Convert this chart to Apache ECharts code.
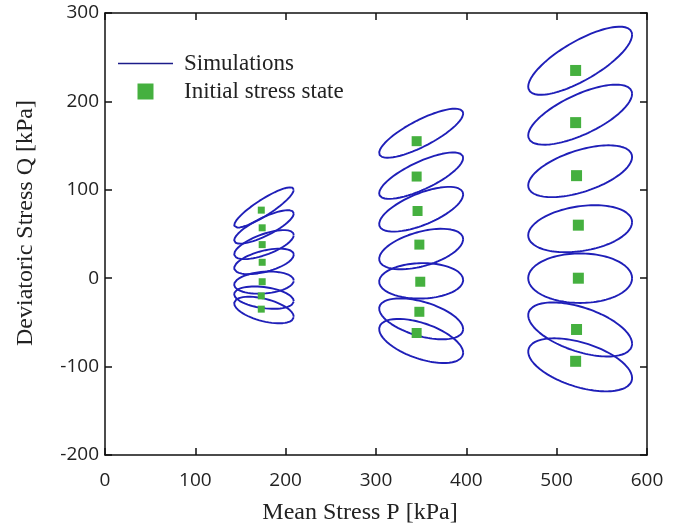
<!DOCTYPE html>
<html>
<head>
<meta charset="utf-8">
<script src="https://cdn.jsdelivr.net/npm/echarts@6/dist/echarts.min.js"></script>
<style>
  html, body { margin: 0; padding: 0; background: #fff; }
  #main { width: 697px; height: 525px; }
</style>
</head>
<body>
<div id="main"></div>
<script>
// 三组围压下的应力路径椭圆 (中心P, 中心Q, 半宽, 斜率, 半厚)
var ellP1 = 176;
var ellHalfW1 = 33;
var ellQ1 = [80, 58, 38, 19, -5, -22, -36];
var ellK1 = [0.61, 0.46, 0.33, 0.23, 0.07, -0.12, -0.23];
var ellThick1 = [10.7, 11.3, 12.3, 12.3, 12.3, 12, 13];

var ellP2 = 350;
var ellHalfW2 = 46.5;
var ellQ2 = [164, 116, 78, 33, -3, -46, -71];
var ellK2 = [0.48, 0.43, 0.36, 0.24, 0.02, -0.25, -0.29];
var ellThick2 = [16.5, 17, 19, 20, 20, 20, 21];

var ellP3 = 526;
var ellHalfW3 = 57.5;
var ellQ3 = [246, 185, 121, 56, 0, -58, -98];
var ellK3 = [0.51, 0.41, 0.28, 0.13, 0, -0.28, -0.26];
var ellThick3 = [25, 24.5, 24.5, 25.5, 28, 26, 26];

// 初始应力状态
var initP1 = [173, 174, 174, 174, 174, 173, 173];
var initQ1 = [77, 57, 38, 18, -4, -20, -35];
var initP2 = [345, 345, 346, 348, 349, 348, 345];
var initQ2 = [155, 115, 76, 38, -4, -38, -62];
var initP3 = [521, 521, 522, 524, 524, 522, 521];
var initQ3 = [235, 176, 116, 60, 0, -58, -94];

var xTicks = { min: 0, max: 600, interval: 100 };
var yTicks = { min: -200, max: 300, interval: 100 };

var lineColor = '#1f1fb8';
var markColor = '#45b03f';

// 由参数生成椭圆轮廓点
function ellipsePoints(cp, cq, rp, k, rq) {
    var pts = [];
    var n = 120;
    for (var i = 0; i <= n; i++) {
        var t = 2 * Math.PI * i / n;
        pts.push([cp + rp * Math.cos(t), cq + k * rp * Math.cos(t) + rq * Math.sin(t)]);
    }
    return pts;
}

function zip(a, b) {
    var out = [];
    for (var i = 0; i < a.length; i++) {
        out.push([a[i], b[i]]);
    }
    return out;
}

var series = [];
var groups = [
    [ellP1, ellHalfW1, ellQ1, ellK1, ellThick1],
    [ellP2, ellHalfW2, ellQ2, ellK2, ellThick2],
    [ellP3, ellHalfW3, ellQ3, ellK3, ellThick3]
];
for (var g = 0; g < groups.length; g++) {
    var grp = groups[g];
    for (var i = 0; i < grp[2].length; i++) {
        series.push({
            name: 'Simulations',
            type: 'line',
            symbol: 'none',
            showSymbol: false,
            silent: true,
            data: ellipsePoints(grp[0], grp[2][i], grp[1], grp[3][i], grp[4][i]),
            lineStyle: { color: lineColor, width: 1.9 },
            itemStyle: { color: lineColor }
        });
    }
}

var marks = [[initP1, initQ1, 7], [initP2, initQ2, 10], [initP3, initQ3, 11]];
for (var m = 0; m < marks.length; m++) {
    series.push({
        name: 'Initial stress state',
        type: 'scatter',
        symbol: 'rect',
        symbolSize: marks[m][2],
        data: zip(marks[m][0], marks[m][1]),
        itemStyle: { color: markColor, opacity: 1 },
        z: 5
    });
}

var axisLine = { show: true, onZero: false, lineStyle: { color: '#111', width: 1.5 } };
var axisTick = { show: true, inside: true, length: 7, lineStyle: { color: '#111', width: 1.5 } };
var labelStyle = { color: '#222', fontSize: 19, fontFamily: 'Open Sans' };
var nameStyle = { color: '#222', fontSize: 24, fontFamily: 'Liberation Serif' };

var myChart = echarts.init(document.getElementById('main'), null, { renderer: 'canvas' });
var option = {
    animation: false,
    backgroundColor: '#fff',
    grid: { left: 105, right: 50, top: 13, bottom: 70, containLabel: false, outerBoundsMode: 'none' },
    legend: {
        orient: 'vertical',
        left: 118,
        top: 52,
        padding: 0,
        itemWidth: 55,
        itemHeight: 16,
        itemGap: 5,
        symbolKeepAspect: true,
        selectedMode: false,
        textStyle: { color: '#222', fontSize: 23, fontFamily: 'Liberation Serif', padding: [0, 0, 0, 6] },
        data: [
            { name: 'Simulations', icon: 'path://M0,0L100,0L100,3L0,3Z', itemStyle: { color: '#1c1c8a' } },
            { name: 'Initial stress state', icon: 'path://M0,0L10,0L10,10L0,10Z' }
        ]
    },
    xAxis: [{
        type: 'value',
        position: 'bottom',
        min: xTicks.min,
        max: xTicks.max,
        interval: xTicks.interval,
        axisLine: axisLine,
        axisTick: axisTick,
        splitLine: { show: false },
        axisLabel: Object.assign({ margin: 16 }, labelStyle),
        name: 'Mean Stress P [kPa]',
        nameLocation: 'middle',
        nameGap: 46,
        nameTextStyle: Object.assign({ padding: [0, 32, 0, 0] }, nameStyle)
    }, {
        type: 'value',
        position: 'top',
        min: xTicks.min,
        max: xTicks.max,
        interval: xTicks.interval,
        axisLine: axisLine,
        axisTick: axisTick,
        splitLine: { show: false },
        axisLabel: { show: false }
    }],
    yAxis: [{
        type: 'value',
        position: 'left',
        min: yTicks.min,
        max: yTicks.max,
        interval: yTicks.interval,
        axisLine: axisLine,
        axisTick: axisTick,
        splitLine: { show: false },
        axisLabel: Object.assign({ margin: 6 }, labelStyle),
        name: 'Deviatoric Stress Q [kPa]',
        nameLocation: 'middle',
        nameRotate: 90,
        nameGap: 67,
        nameTextStyle: Object.assign({ padding: [0, 0, 0, 22] }, nameStyle)
    }, {
        type: 'value',
        position: 'right',
        min: yTicks.min,
        max: yTicks.max,
        interval: yTicks.interval,
        axisLine: axisLine,
        axisTick: axisTick,
        splitLine: { show: false },
        axisLabel: { show: false }
    }],
    series: series
};
myChart.setOption(option);
</script>
</body>
</html>
